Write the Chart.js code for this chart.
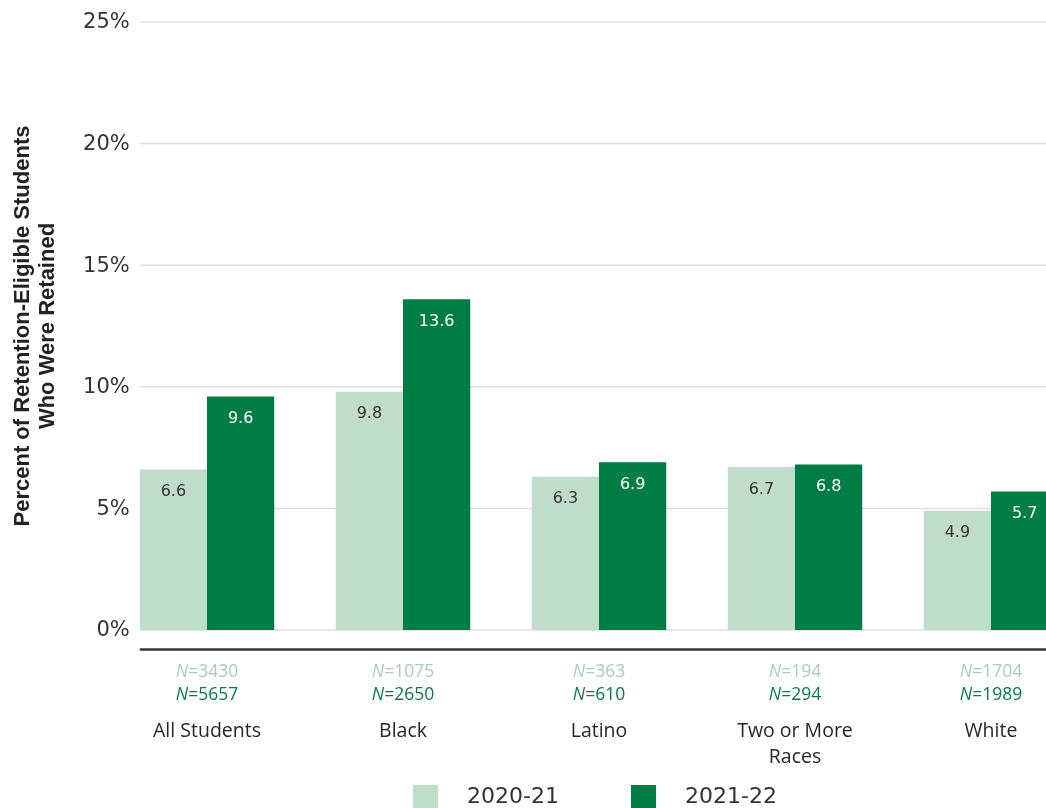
<!DOCTYPE html>
<html>
<head>
<meta charset="utf-8">
<title>Retention rates by race/ethnicity</title>
<script src="https://cdn.jsdelivr.net/npm/chart.js@4.4.1/dist/chart.umd.min.js"></script>
<style>
  html, body { margin: 0; padding: 0; overflow: hidden; background: #fff; }
  #wrap { width: 1190px; height: 808px; }
</style>
</head>
<body>
<div id="wrap"><canvas id="retentionChart"></canvas></div>
<script>
// groups and values
const groups = [['All Students'], ['Black'], ['Latino'], ['Two or More', 'Races'], ['White']];
const rate2021 = [6.6, 9.8, 6.3, 6.7, 4.9];
const rate2122 = [9.6, 13.6, 6.9, 6.8, 5.7];
const n2021 = [3430, 1075, 363, 194, 1704];
const n2122 = [5657, 2650, 610, 294, 1989];
const yTicks = [0, 5, 10, 15, 20, 25];

const LIGHT = '#c0dccb';
const DARK = '#007d44';

// gridlines, y labels, the rule under the plot, bar values, N rows and the legend
const decor = {
  id: 'decor',
  beforeDatasetsDraw(chart) {
    const { ctx, chartArea, scales: { y } } = chart;
    const first = chart.getDatasetMeta(0).data[0];
    const x0 = first.x - first.width / 2;
    ctx.save();
    ctx.strokeStyle = '#dedede';
    ctx.lineWidth = 1.5;
    ctx.fillStyle = '#333';
    ctx.font = "21px 'DejaVu Sans', sans-serif";
    ctx.textAlign = 'right';
    ctx.textBaseline = 'middle';
    y.ticks.forEach(t => {
      const py = y.getPixelForValue(t.value);
      ctx.beginPath();
      ctx.moveTo(x0, py);
      ctx.lineTo(chartArea.right, py);
      ctx.stroke();
      ctx.fillText(t.label, x0 - 10, py + 1);
    });
    ctx.strokeStyle = '#383838';
    ctx.lineWidth = 2.5;
    ctx.beginPath();
    ctx.moveTo(x0, chartArea.bottom + 19.5);
    ctx.lineTo(chartArea.right, chartArea.bottom + 19.5);
    ctx.stroke();
    ctx.restore();
  },
  afterDatasetsDraw(chart) {
    const { ctx, chartArea, scales: { x } } = chart;
    ctx.save();

    // values inside the bars
    ctx.textAlign = 'center';
    ctx.textBaseline = 'middle';
    ctx.font = "16px 'DejaVu Sans', sans-serif";
    chart.data.datasets.forEach((ds, di) => {
      chart.getDatasetMeta(di).data.forEach((bar, i) => {
        ctx.fillStyle = di === 0 ? '#333' : '#fff';
        ctx.fillText(ds.data[i].toFixed(1), bar.x, bar.y + 22.5);
      });
    });

    // sample sizes under each group
    const rows = [
      { vals: n2021, color: '#a9cfb8', y: chartArea.bottom + 42 },
      { vals: n2122, color: '#0b7a43', y: chartArea.bottom + 65 }
    ];
    const italic = "italic 17.5px 'Open Sans', sans-serif";
    const roman = "17.5px 'Open Sans', sans-serif";
    ctx.textAlign = 'left';
    rows.forEach(row => {
      ctx.fillStyle = row.color;
      row.vals.forEach((v, i) => {
        const rest = '=' + v;
        ctx.font = italic;
        const wN = ctx.measureText('N').width;
        ctx.font = roman;
        const wRest = ctx.measureText(rest).width;
        const cx = x.getPixelForValue(i);
        const left = cx - (wN + wRest) / 2;
        ctx.font = italic;
        ctx.fillText('N', left, row.y);
        ctx.font = roman;
        ctx.fillText(rest, left + wN, row.y);
      });
    });

    // legend
    const box = 25, gapText = 29, gapItem = 72;
    ctx.font = "22px 'DejaVu Sans', sans-serif";
    const items = chart.data.datasets.map(ds => ({
      label: ds.label, color: ds.backgroundColor, w: ctx.measureText(ds.label).width
    }));
    const total = items.reduce((s, it) => s + box + gapText + it.w, 0) + gapItem * (items.length - 1);
    let lx = chart.width / 2 - total / 2;
    items.forEach(it => {
      ctx.fillStyle = it.color;
      ctx.fillRect(lx, 785, box, box);
      ctx.fillStyle = '#333';
      ctx.fillText(it.label, lx + box + gapText, 797);
      lx += box + gapText + it.w + gapItem;
    });
    ctx.restore();
  }
};

new Chart(document.getElementById('retentionChart'), {
  type: 'bar',
  data: {
    labels: groups,
    datasets: [
      { label: '2020-21', data: rate2021, backgroundColor: LIGHT },
      { label: '2021-22', data: rate2122, backgroundColor: DARK }
    ]
  },
  options: {
    responsive: true,
    maintainAspectRatio: false,
    animation: false,
    layout: { padding: { top: 22, right: 101, left: 0, bottom: 0 } },
    datasets: { bar: { categoryPercentage: 0.686, barPercentage: 1 } },
    plugins: { legend: { display: false }, tooltip: { enabled: false } },
    scales: {
      x: {
        grid: { display: false, drawTicks: false },
        border: { display: false },
        ticks: {
          padding: 88,
          maxRotation: 0,
          autoSkip: false,
          color: '#262626',
          font: { family: "'Open Sans', sans-serif", size: 19.5, lineHeight: 1.333 }
        },
        afterFit(scale) { scale.height = 178; }
      },
      y: {
        min: 0,
        max: 25,
        afterBuildTicks(scale) { scale.ticks = yTicks.map(v => ({ value: v })); },
        grid: { display: false, drawTicks: false },
        border: { display: false },
        // labels are painted by the decor plugin so they can sit over the plot's left edge
        ticks: {
          display: false,
          callback: v => v + '%'
        },
        title: {
          display: true,
          text: ['Percent of Retention-Eligible Students', 'Who Were Retained'],
          color: '#222',
          font: { family: "'Liberation Sans', sans-serif", size: 22, weight: 'bold', lineHeight: 1.14 },
          padding: { top: 10.5, bottom: 0 }
        },
        afterFit(scale) { scale.width = 109; }
      }
    }
  },
  plugins: [decor]
});
</script>
</body>
</html>
